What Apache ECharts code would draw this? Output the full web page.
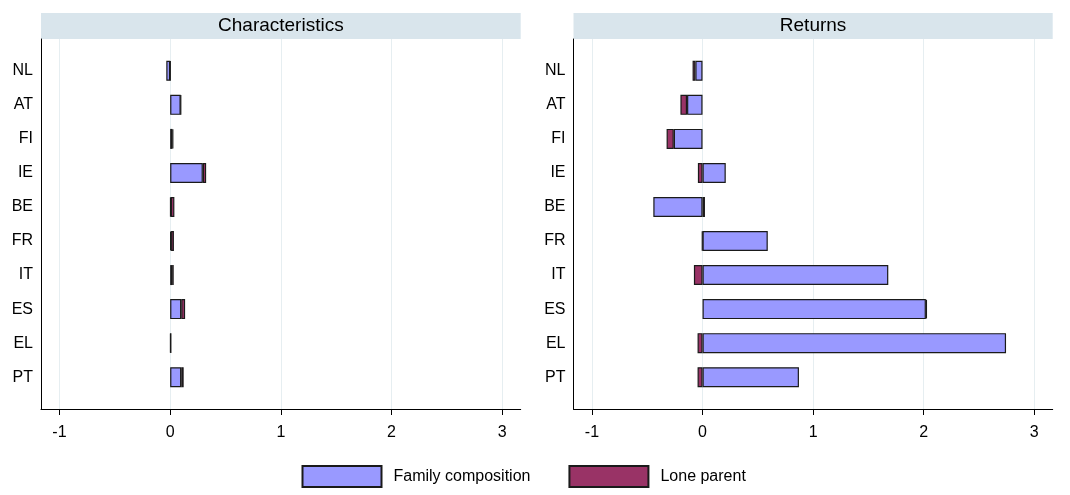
<!DOCTYPE html>
<html>
<head>
<meta charset="utf-8">
<script src="https://cdn.jsdelivr.net/npm/echarts@6/dist/echarts.min.js"></script>
<style>
  html, body { margin: 0; padding: 0; background: #fff; }
  #chart { width: 1070px; height: 495px; }
</style>
</head>
<body>
<div id="chart"></div>
<script>
// Countries, top to bottom
const categories = ['NL', 'AT', 'FI', 'IE', 'BE', 'FR', 'IT', 'ES', 'EL', 'PT'];

// Panel headings and series names
const panelTitles = ['Characteristics', 'Returns'];
const seriesNames = ['Family composition', 'Lone parent'];

// Value axis ticks
const tickMin = -1;
const tickMax = 3;
const tickStep = 1;

// Contributions: characteristics effect
const charFamily = [-0.035, 0.095, 0.02, 0.295, 0.006, 0.008, 0.018, 0.1, 0.005, 0.1];
const charLone   = [0.003, 0.002, 0.008, 0.03, 0.032, 0.026, 0.014, 0.035, 0.002, 0.022];

// Contributions: returns effect
const retFamily = [-0.065, -0.14, -0.26, 0.21, -0.445, 0.59, 1.68, 2.02, 2.745, 0.872];
const retLone   = [-0.025, -0.06, -0.065, -0.042, 0.022, -0.005, -0.078, 0.01, -0.045, -0.045];

const panelData = [[charFamily, charLone], [retFamily, retLone]];
const seriesColors = ['#9999ff', '#993366'];

// Layout (pixels)
const FONT = '"Liberation Sans", Arial, Helvetica, sans-serif';
const frames = [{ left: 41, width: 479.7 }, { left: 573.5, width: 479.2 }];
const frameTop = 39, frameHeight = 370;
const headerTop = 13, headerHeight = 26;
const bandTop = 53.8, bandHeight = 340.4;
const edgePad = 0.167; // axis runs a little past the outer ticks

const grid = [], xAxis = [], yAxis = [], series = [], graphic = [];

frames.forEach((f, p) => {
  const scale = f.width / (tickMax - tickMin + 2 * edgePad);
  const innerLeft = f.left + edgePad * scale;
  const innerWidth = (tickMax - tickMin) * scale;
  const gA = 3 * p, gB = 3 * p + 1, gC = 3 * p + 2;

  // A: frame lines (left and bottom)
  grid.push({ left: f.left, top: frameTop, width: f.width, height: frameHeight });
  xAxis.push({
    gridIndex: gA, type: 'value', min: 0, max: 1,
    axisLine: { show: true, onZero: false, lineStyle: { color: '#000', width: 1 } },
    axisTick: { show: false }, axisLabel: { show: false }, splitLine: { show: false }
  });
  yAxis.push({
    gridIndex: gA, type: 'value', min: 0, max: 1,
    axisLine: { show: true, onZero: false, lineStyle: { color: '#000', width: 1 } },
    axisTick: { show: false }, axisLabel: { show: false }, splitLine: { show: false }
  });

  // B: ticks, labels and grid lines
  grid.push({ left: innerLeft, top: frameTop, width: innerWidth, height: frameHeight });
  xAxis.push({
    gridIndex: gB, type: 'value', min: tickMin, max: tickMax, interval: tickStep,
    axisLine: { show: false },
    axisTick: { show: true, length: 6, lineStyle: { color: '#000', width: 1 } },
    axisLabel: { color: '#000', fontSize: 16, fontFamily: FONT, margin: 16 },
    splitLine: { show: true, lineStyle: { color: '#e6eef1', width: 1 } }
  });
  yAxis.push({ gridIndex: gB, type: 'value', show: false });

  // C: bars
  grid.push({ left: innerLeft, top: bandTop, width: innerWidth, height: bandHeight });
  xAxis.push({ gridIndex: gC, type: 'value', min: tickMin, max: tickMax, show: false });
  yAxis.push({
    gridIndex: gC, type: 'category', data: categories, inverse: true,
    offset: innerLeft - f.left,
    axisLine: { show: false }, axisTick: { show: false },
    axisLabel: { color: '#000', fontSize: 16, fontFamily: FONT, margin: 8 },
    splitLine: { show: false }
  });

  panelData[p].forEach((vals, s) => {
    series.push({
      type: 'bar',
      name: seriesNames[s],
      xAxisIndex: gC, yAxisIndex: gC,
      stack: 'panel' + p,
      barWidth: 20,
      data: vals,
      itemStyle: { color: seriesColors[s], borderColor: '#1a1a1a', borderWidth: 1.2 },
      emphasis: { disabled: true }
    });
  });

  // Panel heading strip
  graphic.push({
    type: 'group', left: f.left, top: headerTop,
    children: [
      { type: 'rect', shape: { x: 0, y: 0, width: f.width, height: headerHeight },
        style: { fill: '#d9e5ec' } },
      { type: 'text', x: f.width / 2, y: headerHeight / 2,
        style: { text: panelTitles[p], fill: '#000', font: '19px ' + FONT,
                 textAlign: 'center', textVerticalAlign: 'middle' } }
    ]
  });
});

const chart = echarts.init(document.getElementById('chart'), null, { renderer: 'canvas' });
chart.setOption({
  animation: false,
  backgroundColor: '#fff',
  grid, xAxis, yAxis, series, graphic,
  legend: {
    data: seriesNames,
    left: 296.5, top: 460,
    itemWidth: 79, itemHeight: 21, itemGap: 38,
    icon: 'rect',
    selectedMode: false,
    textStyle: { color: '#000', fontSize: 16, fontFamily: FONT, padding: [0, 0, 0, 7] }
  }
});
</script>
</body>
</html>
